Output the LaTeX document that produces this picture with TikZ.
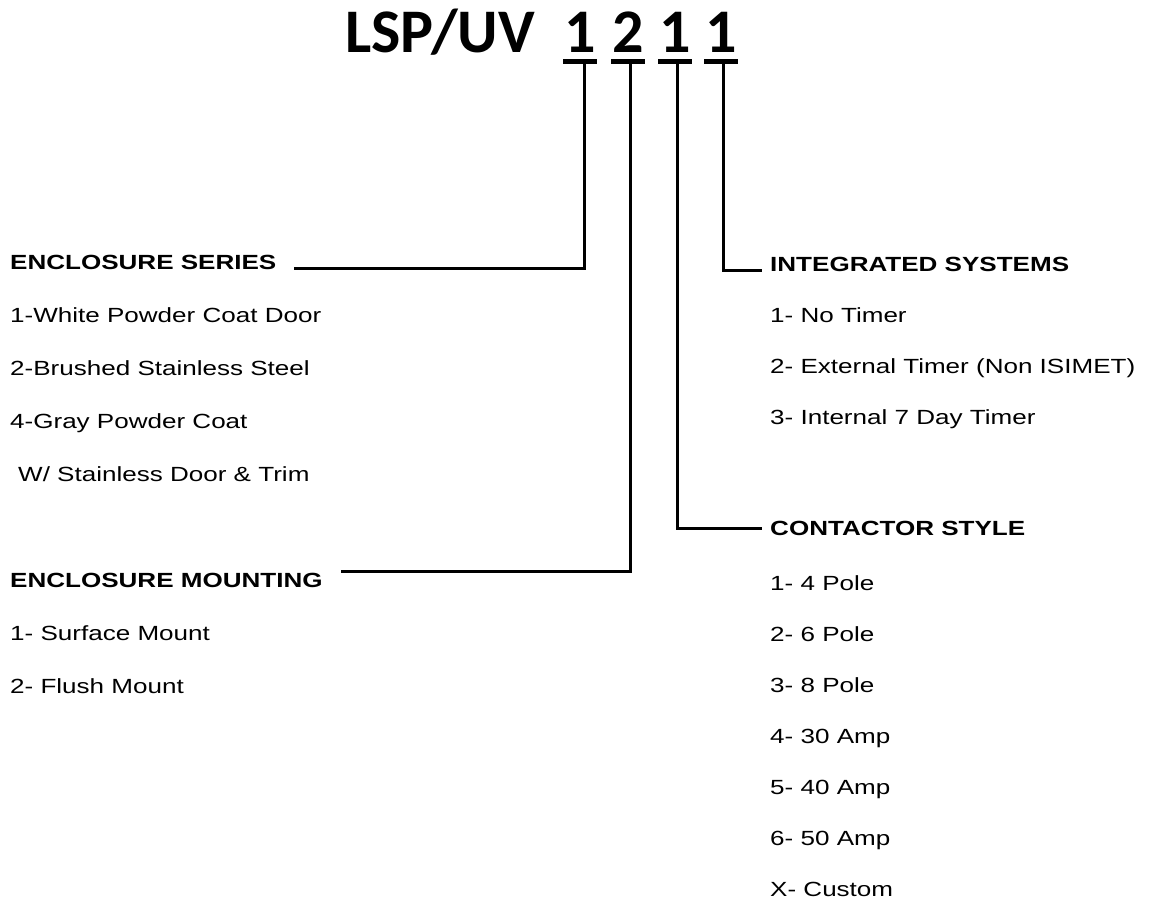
\documentclass[tikz,border=0pt]{standalone}
\usepackage{fontspec}
\setmainfont[FakeStretch=1.27]{Liberation Sans}
\newfontfamily\titlefont{Carlito}
\usetikzlibrary{calc}

\begin{document}
\begin{tikzpicture}[x=1pt, y=-1pt]
%
% Skiss:
%  LSP/UV  1 2 1 1
%          | | | `-- INTEGRATED SYSTEMS
%          | | `---- CONTACTOR STYLE
%          | `------ ENCLOSURE MOUNTING
%          `-------- ENCLOSURE SERIES
%
\tikzstyle{title} = [inner sep=0pt, anchor=base east, font=\titlefont\bfseries\fontsize{62}{62}\selectfont]
\tikzstyle{digit} = [inner sep=0pt, anchor=base, font=\titlefont\bfseries\fontsize{62}{62}\selectfont]
\tikzstyle{heading} = [inner sep=0pt, anchor=base west, font=\bfseries\fontsize{20.5}{20.5}\selectfont]
\tikzstyle{item} = [inner sep=0pt, anchor=base west, font=\fontsize{20.5}{20.5}\selectfont]
\tikzstyle{bar} = [line width=5pt]
\tikzstyle{link} = [line width=3pt]

\useasboundingbox (0,0) rectangle (1149,907);

% Title
\node (model) [title] at (535,53) {LSP/UV};
\node (dSeries) [digit] at (580,53) {1};
\node (dMount) [digit] at (628,53) {2};
\node (dContact) [digit] at (675,53) {1};
\node (dSystem) [digit] at (721,53) {1};

% Left column
\node (hSeries) [heading] at (10,269) {ENCLOSURE SERIES};
\node (series1) [item] at (10,322) {1-White Powder Coat Door};
\node (series2) [item] at (10,375) {2-Brushed Stainless Steel};
\node (series4) [item] at (10,428) {4-Gray Powder Coat};
\node (series4b) [item] at (18,481) {W/ Stainless Door \& Trim};
\node (hMount) [heading] at (10,587) {ENCLOSURE MOUNTING};
\node (mount1) [item] at (10,640) {1- Surface Mount};
\node (mount2) [item] at (10,693) {2- Flush Mount};

% Right column
\node (hSystem) [heading] at (770,271) {INTEGRATED SYSTEMS};
\node (system1) [item] at (770,322) {1- No Timer};
\node (system2) [item] at (770,373) {2- External Timer (Non ISIMET)};
\node (system3) [item] at (770,424) {3- Internal 7 Day Timer};
\node (hContact) [heading] at (770,535) {CONTACTOR STYLE};
\node (contact1) [item] at (770,590) {1- 4 Pole};
\node (contact2) [item] at (770,641) {2- 6 Pole};
\node (contact3) [item] at (770,692) {3- 8 Pole};
\node (contact4) [item] at (770,743) {4- 30 Amp};
\node (contact5) [item] at (770,794) {5- 40 Amp};
\node (contact6) [item] at (770,845) {6- 50 Amp};
\node (contactX) [item] at (770,896) {X- Custom};

% Bars under digits
\draw [bar] ($(dSeries.base)+(-17,9)$) -- ($(dSeries.base)+(17,9)$);
\draw [bar] ($(dMount.base)+(-17,9)$) -- ($(dMount.base)+(17,9)$);
\draw [bar] ($(dContact.base)+(-17,9)$) -- ($(dContact.base)+(17,9)$);
\draw [bar] ($(dSystem.base)+(-17,9)$) -- ($(dSystem.base)+(17,9)$);

% Links
\draw [link] ($(dSeries.base)+(4,9)$) |- ([xshift=17pt, yshift=1pt]hSeries.base east);
\draw [link] ($(dMount.base)+(2,9)$) |- ([xshift=18pt, yshift=16pt]hMount.base east);
\draw [link] ($(dContact.base)+(2,9)$) |- ([xshift=-8pt, yshift=7pt]hContact.base west);
\draw [link] ($(dSystem.base)+(2,9)$) |- ([xshift=-8pt, yshift=1pt]hSystem.base west);

\end{tikzpicture}
\end{document}
